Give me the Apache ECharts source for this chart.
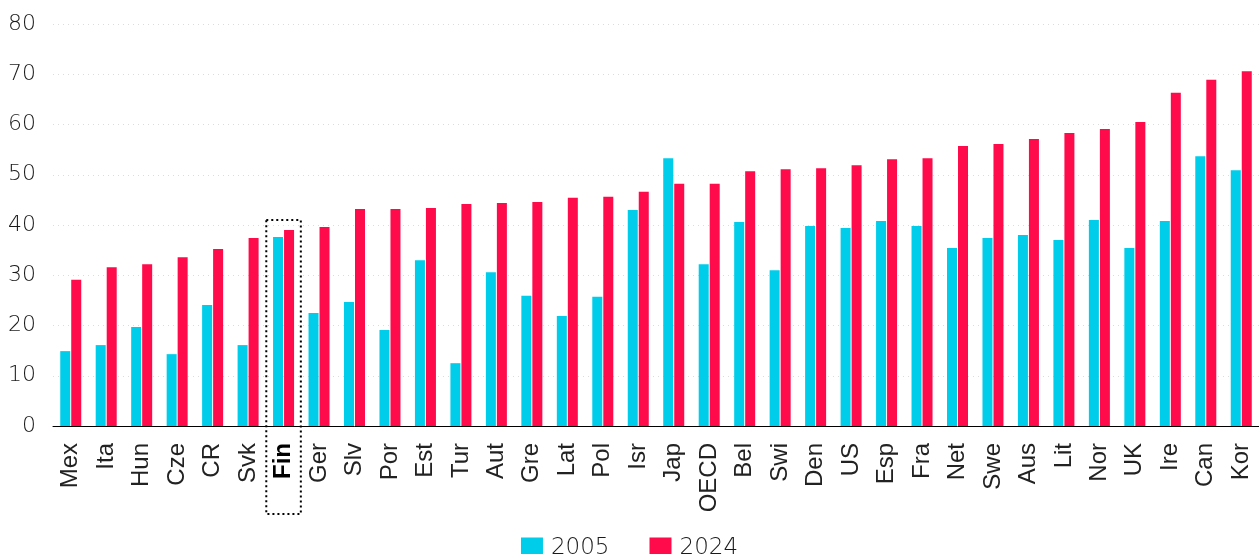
<!DOCTYPE html>
<html>
<head>
<meta charset="utf-8">
<script src="https://cdn.jsdelivr.net/npm/echarts@6/dist/echarts.min.js"></script>
<style>
html,body{margin:0;padding:0;background:#fff;}
#chart{width:1259px;height:554px;}
</style>
</head>
<body>
<div id="chart"></div>
<script>
const categories = ['Mex','Ita','Hun','Cze','CR','Svk','Fin','Ger','Slv','Por','Est','Tur','Aut','Gre','Lat','Pol','Isr','Jap','OECD','Bel','Swi','Den','US','Esp','Fra','Net','Swe','Aus','Lit','Nor','UK','Ire','Can','Kor'];
const v2005 = [14.9,16.1,19.7,14.3,24.1,16.1,37.6,22.5,24.7,19.1,33.0,12.5,30.6,25.9,21.9,25.7,43.0,53.3,32.2,40.6,31.0,39.8,39.4,40.8,39.8,35.4,37.4,38.0,37.0,41.0,35.4,40.8,53.7,50.9];
const v2024 = [29.1,31.6,32.2,33.6,35.2,37.4,39.0,39.6,43.2,43.2,43.4,44.2,44.4,44.6,45.4,45.6,46.6,48.2,48.2,50.7,51.1,51.3,51.9,53.1,53.3,55.7,56.1,57.1,58.3,59.1,60.5,66.3,68.9,70.6];
const seriesNames = ['2005','2024'];
const highlight = 'Fin';
const highlightTop = 41;

const numFont = 'DejaVu Sans';
const chart = echarts.init(document.getElementById('chart'), null, {renderer:'canvas'});
chart.setOption({
  animation:false,
  grid:{left:53, top:24, width:1209, bottom:128, containLabel:false},
  legend:{
    top:532, left:'center', itemWidth:22, itemHeight:22, itemGap:40,
    icon:'rect',
    textStyle:{fontFamily:numFont, fontSize:23, fontWeight:200, color:'#1a1a1a', padding:[0,0,0,3]},
    data:seriesNames
  },
  xAxis:{
    type:'category', data:categories,
    axisLine:{lineStyle:{color:'#000', width:1}},
    axisTick:{show:false},
    axisLabel:{
      rotate:90, margin:17, interval:0,
      fontFamily:'Liberation Sans', fontSize:24, color:'#222',
      formatter:function(v){ return v===highlight ? '{b|'+v+'}' : v; },
      rich:{b:{fontFamily:'Liberation Sans', fontSize:24, fontWeight:'bold', color:'#000'}}
    }
  },
  yAxis:{
    type:'value', min:0, max:80, interval:10,
    axisLine:{show:false}, axisTick:{show:false},
    axisLabel:{margin:17, fontFamily:numFont, fontSize:22, fontWeight:200, color:'#1a1a1a'},
    splitLine:{lineStyle:{color:'#dcdcdc', width:1, type:[1,4]}}
  },
  series:[
    {name:seriesNames[0], type:'bar', data:v2005, barWidth:10, barGap:'10%', itemStyle:{color:'#00cdea'}},
    {name:seriesNames[1], type:'bar', data:v2024, barWidth:10, itemStyle:{color:'#ff0a4b'}}
  ]
});

function drawBox(){
  const idx = categories.indexOf(highlight);
  const c = chart.convertToPixel({xAxisIndex:0}, idx);
  const band = 1209 / categories.length;
  const top = chart.convertToPixel({yAxisIndex:0}, highlightTop);
  const base = chart.convertToPixel({yAxisIndex:0}, 0);
  chart.setOption({
    graphic:[{
      type:'rect', silent:true,
      shape:{x:c - band/2 + 0.5, y:top, width:band - 1, height:(base + 88) - top},
      style:{fill:'none', stroke:'#000', lineWidth:2, lineDash:[2,3]}
    }]
  });
}
drawBox();
</script>
</body>
</html>
